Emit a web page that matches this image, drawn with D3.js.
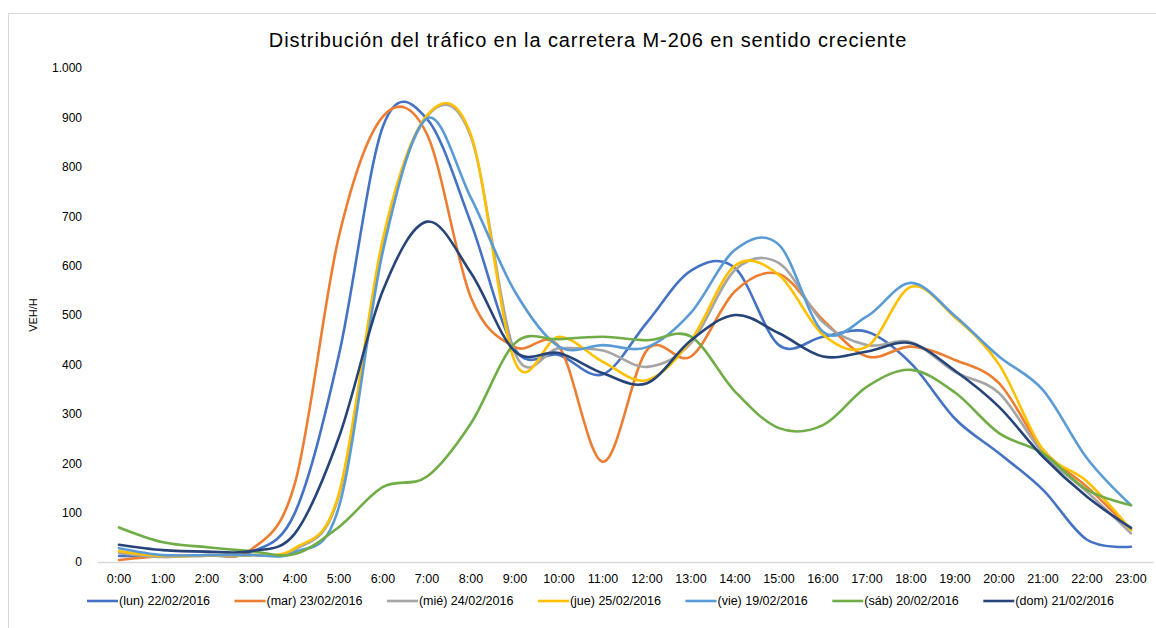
<!DOCTYPE html>
<html lang="es">
<head>
  <meta charset="UTF-8" />
  <title>Distribución del tráfico M-206</title>
  <style>
    html, body {
      margin: 0;
      padding: 0;
      background: #fff;
      font-family: "Liberation Sans", Arial, sans-serif;
    }
  </style>
</head>
<body>

<script src="https://d3js.org/d3.v7.min.js"></script>
<script>
  const hours = ["0:00", "1:00", "2:00", "3:00", "4:00", "5:00", "6:00", "7:00", "8:00", "9:00", "10:00", "11:00",
    "12:00", "13:00", "14:00", "15:00", "16:00", "17:00", "18:00", "19:00", "20:00", "21:00", "22:00", "23:00"];

  const yTicks = [0, 100, 200, 300, 400, 500, 600, 700, 800, 900, 1000];

  const seriesNames = ["(lun) 22/02/2016", "(mar) 23/02/2016", "(mié) 24/02/2016", "(jue) 25/02/2016",
    "(vie) 19/02/2016", "(sáb) 20/02/2016", "(dom) 21/02/2016"];

  const lun = [12, 12, 13, 20, 100, 420, 882, 897, 686, 430, 419, 380, 485, 590, 595, 439, 456, 466, 402, 290, 220, 146, 45, 31];
  const mar = [4, 12, 14, 25, 160, 660, 902, 866, 535, 435, 436, 203, 429, 416, 548, 583, 490, 416, 436, 409, 362, 227, 152, 65];
  const mie = [18, 10, 14, 14, 25, 135, 645, 902, 860, 423, 433, 428, 395, 443, 591, 605, 485, 439, 445, 385, 342, 220, 142, 58];
  const jue = [22, 12, 13, 14, 28, 139, 655, 904, 864, 405, 456, 405, 368, 449, 600, 581, 460, 436, 557, 495, 400, 227, 163, 65];
  const vie = [28, 14, 14, 14, 20, 112, 630, 898, 737, 547, 436, 439, 435, 505, 632, 642, 466, 497, 565, 498, 416, 348, 210, 115];
  const sab = [70, 40, 30, 22, 16, 71, 152, 173, 281, 443, 451, 456, 449, 456, 345, 271, 277, 355, 389, 343, 261, 220, 146, 115];
  const dom = [35, 24, 21, 22, 58, 253, 550, 689, 585, 426, 423, 382, 362, 449, 500, 463, 416, 426, 443, 387, 314, 213, 132, 69];

  const colors = ["#4472C4", "#ED7D31", "#A5A5A5", "#FFC000", "#5B9BD5", "#70AD47", "#264478"];

  const series = seriesNames.map((name, i) => ({
    name,
    color: colors[i],
    values: [lun, mar, mie, jue, vie, sab, dom][i]
  }));

  function chart() {
    const width = 1156;
    const height = 628;

    const plotLeft = 97;
    const plotRight = 1153;
    const plotTop = 68;
    const plotBottom = 562;

    const x = d3.scaleBand().domain(hours).range([plotLeft, plotRight]);
    const cx = h => x(h) + x.bandwidth() / 2;
    const y = d3.scaleLinear().domain([0, 1000]).range([plotBottom, plotTop]);

    const fmt = d3.formatLocale({decimal: ",", thousands: ".", grouping: [3], currency: ["", "€"]}).format(",d");

    const svg = d3.select("body").append("svg")
      .attr("width", width)
      .attr("height", height)
      .attr("viewBox", [0, 0, width, height])
      .attr("style", "display: block; font-family: 'Liberation Sans', Arial, sans-serif;");

    // chart frame
    svg.append("rect")
      .attr("x", 8.5).attr("y", 13.5)
      .attr("width", width + 10).attr("height", height + 10)
      .attr("fill", "#fff")
      .attr("stroke", "#d9d9d9");

    svg.append("text")
      .attr("x", 588).attr("y", 47)
      .attr("text-anchor", "middle")
      .attr("font-size", 20)
      .attr("letter-spacing", 0.9)
      .attr("fill", "#000")
      .text("Distribución del tráfico en la carretera M-206 en sentido creciente");

    // y axis (labels only)
    const yAxis = svg.append("g")
      .attr("transform", `translate(${plotLeft},0)`)
      .call(d3.axisLeft(y).tickValues(yTicks).tickFormat(fmt).tickSize(0).tickPadding(15));
    yAxis.select(".domain").remove();
    yAxis.selectAll("text").attr("font-size", 12).attr("fill", "#000").attr("font-family", null);

    svg.append("text")
      .attr("transform", `translate(37,${(plotTop + plotBottom) / 2}) rotate(-90)`)
      .attr("text-anchor", "middle")
      .attr("font-size", 11)
      .attr("fill", "#000")
      .text("VEH/H");

    // x axis
    const xAxis = svg.append("g")
      .attr("transform", `translate(0,${plotBottom})`)
      .call(d3.axisBottom(x).tickSize(0).tickPadding(12));
    xAxis.select(".domain").attr("stroke", "#d9d9d9").attr("stroke-width", 1.3);
    xAxis.selectAll("text").attr("font-size", 12.5).attr("fill", "#000").attr("font-family", null);

    const line = d3.line()
      .x((d, i) => cx(hours[i]))
      .y(d => y(d))
      .curve(d3.curveCatmullRom.alpha(0));

    svg.append("g")
      .attr("fill", "none")
      .attr("stroke-width", 2.6)
      .attr("stroke-linejoin", "round")
      .attr("stroke-linecap", "round")
      .selectAll("path")
      .data(series)
      .join("path")
      .attr("stroke", d => d.color)
      .attr("d", d => line(d.values));

    // legend, laid out from measured text widths
    const legend = svg.append("g").attr("font-size", 12.5);
    const ly = 601;
    const items = series.map(s => {
      const g = legend.append("g");
      g.append("line")
        .attr("x1", 0).attr("x2", 31)
        .attr("y1", ly).attr("y2", ly)
        .attr("stroke", s.color)
        .attr("stroke-width", 2.6);
      const t = g.append("text")
        .attr("x", 32).attr("y", ly)
        .attr("dy", "0.35em")
        .attr("fill", "#000")
        .text(s.name);
      return {g, w: 32 + t.node().getComputedTextLength()};
    });
    const total = 1114 - 87;
    const gap = (total - d3.sum(items, d => d.w)) / (items.length - 1);
    let lx = 87;
    items.forEach(d => {
      d.g.attr("transform", `translate(${lx},0)`);
      lx += d.w + gap;
    });

    return svg.node();
  }

  chart();
</script>
</body>
</html>
